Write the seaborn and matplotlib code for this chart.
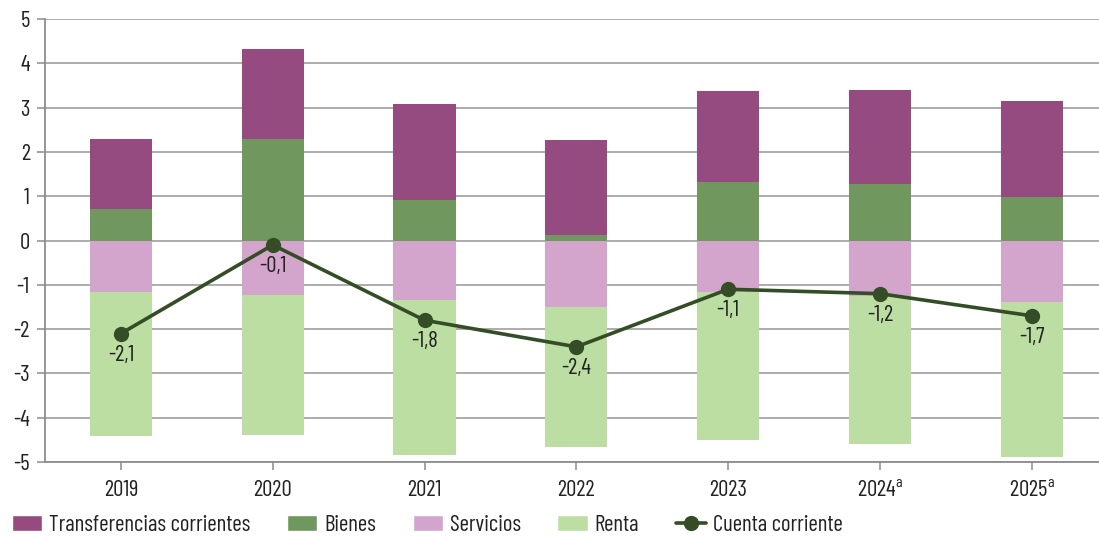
import numpy as np
import pandas as pd
import matplotlib
matplotlib.use("Agg")
import matplotlib.pyplot as plt
from matplotlib.patches import Patch
from matplotlib.lines import Line2D
import seaborn as sns

# Balance components (% of GDP)
years = ["2019", "2020", "2021", "2022", "2023", "2024$^{\\mathrm{a}}$", "2025$^{\\mathrm{a}}$"]
transferencias = [1.56, 2.04, 2.15, 2.14, 2.04, 2.12, 2.15]
bienes = [0.72, 2.28, 0.92, 0.12, 1.33, 1.27, 0.99]
servicios = [-1.17, -1.24, -1.35, -1.51, -1.17, -1.26, -1.38]
renta = [-3.25, -3.15, -3.50, -3.16, -3.34, -3.34, -3.51]
cuenta_corriente = [-2.1, -0.1, -1.8, -2.4, -1.1, -1.2, -1.7]

c_transf = "#954B7F"
c_bienes = "#70975D"
c_serv = "#D4A5CC"
c_renta = "#BCDEA3"
c_line = "#344D26"
c_text = "#222222"

sns.set_theme(style="white")
FONT = "Barlow Condensed"
plt.rcParams["font.family"] = [FONT, "DejaVu Sans"]
plt.rcParams["mathtext.fontset"] = "custom"
plt.rcParams["mathtext.rm"] = FONT

FS = 16.5

df = pd.DataFrame({
    "year": years,
    "transf": transferencias,
    "bienes": bienes,
    "serv": servicios,
    "renta": renta,
    "cc": cuenta_corriente,
})
df["pos_top"] = df["bienes"] + df["transf"]
df["neg_bot"] = df["serv"] + df["renta"]

fig = plt.figure(figsize=(10.99, 5.36), dpi=100)
ax = fig.add_axes([0.041, 0.138, 0.959, 0.8266])

bw = 0.41
# stacked layers: draw full stacks first, then inner segments on top
sns.barplot(data=df, x="year", y="pos_top", color=c_transf, width=bw,
            saturation=1, ax=ax, zorder=2)
sns.barplot(data=df, x="year", y="bienes", color=c_bienes, width=bw,
            saturation=1, ax=ax, zorder=2)
sns.barplot(data=df, x="year", y="neg_bot", color=c_renta, width=bw,
            saturation=1, ax=ax, zorder=2)
sns.barplot(data=df, x="year", y="serv", color=c_serv, width=bw,
            saturation=1, ax=ax, zorder=2)
for p in ax.patches:
    p.set_linewidth(0)

xpos = np.arange(len(years))
sns.lineplot(x=xpos, y=df["cc"], color=c_line, lw=2.6, marker="o",
             markersize=11, markeredgewidth=0, ax=ax, zorder=4)

for x, v in zip(xpos, cuenta_corriente):
    ax.annotate(f"{v:.1f}".replace(".", ","), (x, v), xytext=(0, -15.5),
                textcoords="offset points", ha="center", va="center",
                fontsize=FS, color=c_text, zorder=5)

ax.set_ylim(-5, 5)
ax.set_xlim(-0.5, 6.443)
ax.set_yticks(range(-5, 6))
ax.set_yticklabels([str(v) for v in range(-5, 6)])
ax.yaxis.grid(True, color="#A6A6A6", lw=1.3, zorder=0)
ax.set_axisbelow(True)
ax.set_xlabel("")
ax.set_ylabel("")

for s in ["top", "right"]:
    ax.spines[s].set_visible(False)
for s in ["left", "bottom"]:
    ax.spines[s].set_color("#8C8C8C")
    ax.spines[s].set_linewidth(1.3)

ax.tick_params(axis="both", which="both", length=6, width=1.1, color="#8C8C8C",
               labelsize=FS, labelcolor=c_text, direction="out",
               left=True, bottom=True)
ax.tick_params(axis="x", pad=7)
ax.tick_params(axis="y", pad=5)

handles = [
    Patch(facecolor=c_transf, label="Transferencias corrientes"),
    Patch(facecolor=c_bienes, label="Bienes"),
    Patch(facecolor=c_serv, label="Servicios"),
    Patch(facecolor=c_renta, label="Renta"),
    Line2D([0], [0], color=c_line, lw=2.6, marker="o", markersize=11,
           markeredgewidth=0, label="Cuenta corriente"),
]
fig.legend(handles=handles, loc="center left", bbox_to_anchor=(0.011, 0.02),
           ncol=5, frameon=False, fontsize=FS, handlelength=1.32,
           handleheight=0.72, handletextpad=0.3, columnspacing=1.6,
           labelcolor=c_text, borderpad=0, borderaxespad=0)

fig.savefig("out.png", dpi=100)
